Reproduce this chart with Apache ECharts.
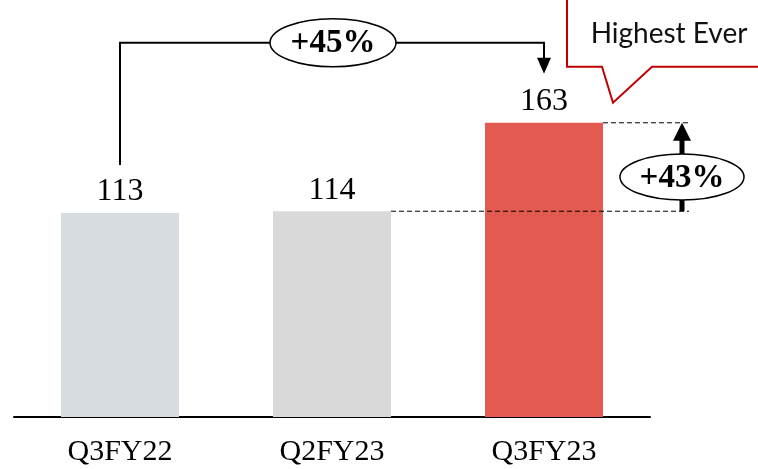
<!DOCTYPE html>
<html><head><meta charset="utf-8">
<script src="https://cdn.jsdelivr.net/npm/echarts@6/dist/echarts.min.js"></script>
<style>html,body{margin:0;padding:0;background:#fff}#c{width:758px;height:469px}</style>
</head><body><div id="c"></div>
<script>
const categories = ['Q3FY22', 'Q2FY23', 'Q3FY23'];
const values = [113, 114, 163];
const barColors = ['#d6dce0', '#d9d9d9', '#e35b50'];
const growthYoY = '+45%';
const growthQoQ = '+43%';
const calloutText = 'Highest Ever';

const SERIF = '"Liberation Serif", "DejaVu Serif", serif';
const chart = echarts.init(document.getElementById('c'), null, {renderer: 'canvas'});
chart.setOption({
  animation: false,
  grid: {left: 14, right: 108, top: 56, bottom: 52},
  xAxis: {
    type: 'category', data: categories,
    axisLine: {lineStyle: {color: '#000', width: 2}},
    axisTick: {show: false},
    axisLabel: {color: '#000', fontFamily: SERIF, fontSize: 30, margin: 20}
  },
  yAxis: {type: 'value', min: 0, max: 200, show: false, splitLine: {show: false}},
  series: [{
    type: 'bar', barWidth: 118,
    data: values.map((v, i) => ({value: v, itemStyle: {color: barColors[i]}})),
    label: {show: true, position: 'top', distance: 5, color: '#000', fontFamily: SERIF, fontSize: 32}
  }]
});

function px(i) { return chart.convertToPixel({seriesIndex: 0}, [i, values[i]]); }
const p0 = px(0), p1 = px(1), p2 = px(2);
const half = 59;
const topY = p2[1] - 80;
const g = [];
// bracket +45%
g.push({type: 'polyline', shape: {points: [[p0[0], p0[1] - 48], [p0[0], topY], [p2[0], topY], [p2[0], topY + 16]]},
  style: {stroke: '#000', lineWidth: 2, fill: null}, z: 10});
g.push({type: 'polygon', shape: {points: [[p2[0] - 7, topY + 15], [p2[0] + 7, topY + 15], [p2[0], topY + 31]]},
  style: {fill: '#000'}, z: 10});
const midX = (p0[0] + p2[0]) / 2 + 1;
g.push({type: 'ellipse', shape: {cx: midX, cy: topY, rx: 63, ry: 24}, style: {fill: '#fff', stroke: '#000', lineWidth: 1.5}, z: 11});
g.push({type: 'text', x: midX, y: topY + 1, style: {text: growthYoY, fontFamily: SERIF, fontWeight: 'bold', fontSize: 33, fill: '#000', align: 'center', verticalAlign: 'middle'}, z: 12});
// dashed guides
const dx = p2[0] + half + 86;
g.push({type: 'line', shape: {x1: p2[0] + half, y1: p2[1], x2: dx, y2: p2[1]}, style: {stroke: '#000', lineWidth: 1, lineDash: [5, 3]}, z: 10});
g.push({type: 'line', shape: {x1: p1[0] + half, y1: p1[1], x2: dx, y2: p1[1]}, style: {stroke: '#000', lineWidth: 1, lineDash: [5, 3]}, z: 10});
// +43% arrow
const ax = p2[0] + half + 79;
g.push({type: 'line', shape: {x1: ax, y1: p1[1], x2: ax, y2: p2[1] + 15}, style: {stroke: '#000', lineWidth: 5}, z: 10});
g.push({type: 'polygon', shape: {points: [[ax - 9, p2[1] + 18], [ax + 9, p2[1] + 18], [ax, p2[1]]]}, style: {fill: '#000'}, z: 10});
const ey = (p1[1] + p2[1]) / 2 + 10;
g.push({type: 'ellipse', shape: {cx: ax, cy: ey, rx: 62, ry: 23}, style: {fill: '#fff', stroke: '#000', lineWidth: 1.5}, z: 11});
g.push({type: 'text', x: ax, y: ey + 1, style: {text: growthQoQ, fontFamily: SERIF, fontWeight: 'bold', fontSize: 33, fill: '#000', align: 'center', verticalAlign: 'middle'}, z: 12});
// callout
const cl = p2[0] + half - 36, cb = p2[1] - 56;
g.push({type: 'polygon', shape: {points: [[cl, -5], [cl, cb], [cl + 35, cb], [cl + 46, cb + 36], [cl + 85, cb], [770, cb], [770, -5]]},
  style: {fill: '#fff', stroke: '#c00000', lineWidth: 2}, z: 10});
g.push({type: 'text', x: cl + 102, y: cb - 33, style: {text: calloutText, fontFamily: 'Lato, "Liberation Sans", sans-serif', fontSize: 28, fill: '#111', align: 'center', verticalAlign: 'middle'}, z: 12});
chart.setOption({graphic: g});
</script></body></html>
